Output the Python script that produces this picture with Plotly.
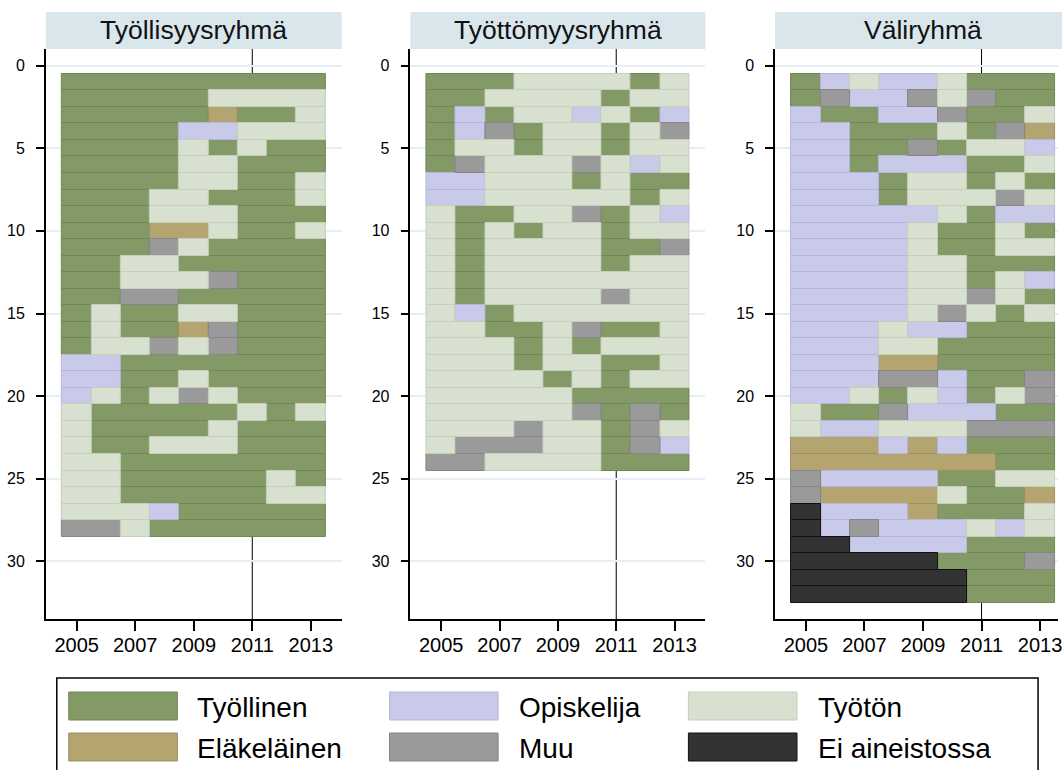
import plotly.graph_objects as go

# ---------------- data ----------------
years = [2005, 2006, 2007, 2008, 2009, 2010, 2011, 2012, 2013]
x_tick_years = [2005, 2007, 2009, 2011, 2013]
y_ticks = [0, 5, 10, 15, 20, 25, 30]
reform_year = 2011

panel_titles = ["Työllisyysryhmä", "Työttömyysryhmä", "Väliryhmä"]

# state codes: E=Työllinen, R=Eläkeläinen, S=Opiskelija, M=Muu, U=Työtön, X=Ei aineistossa
state_codes = ["E", "R", "S", "M", "U", "X"]
state_labels = ["Työllinen", "Eläkeläinen", "Opiskelija", "Muu", "Työtön", "Ei aineistossa"]
state_colors = ["#849a66", "#b4a470", "#c9c9e9", "#9a9a9a", "#d8e0d0", "#333333"]
state_edges = ["#6f8753", "#9f8f5d", "#b6b6dc", "#858585", "#c5cfbc", "#111111"]

# one string per individual, one letter per year 2005..2013
seq_tyollisyys = [
    "EEEEEEEEE", "EEEEEUUUU", "EEEEEREEU", "EEEESSUUU", "EEEEUEUEE",
    "EEEEUUEEE", "EEEEUUEEU", "EEEUUEEEU", "EEEUUUEEE", "EEERRUEEU",
    "EEEMUEEEE", "EEUUEEEEE", "EEUUUMEEE", "EEMMEEEEE", "EUEEUUEEE",
    "EUEERMEEE", "EUUMUMEEE", "SSEEEEEEE", "SSEEUEEEE", "SUEUMUEEE",
    "UEEEEEUEU", "UEEEEUEEE", "UEEUUUEEE", "UUEEEEEEE", "UUEEEEEUE",
    "UUEEEEEUU", "UUUSEEEEE", "MMUEEEEEE",
]
seq_tyottomyys = [
    "EEEUUUUEU", "EEUUUUEUU", "ESEUUSUES", "ESMEUUEUM", "EUUEUUEUU",
    "EMUUUMUSU", "SSUUUEUEE", "SSUUUUUEU", "UEEUUMEUS", "UEUEUUEUU",
    "UEUUUUEEM", "UEUUUUEUU", "UEUUUUUUU", "UEUUUUMUU", "USEUUUUUU",
    "UUEEUMEEU", "UUUEUEUUU", "UUUEUUEEU", "UUUUEUEUU", "UUUUUEEEE",
    "UUUUUMEME", "UUUMUUEMU", "UMMMUUEMS", "MMUUUUEEE",
]
seq_valiryhma = [
    "ESUSSUEEE", "EMSSMUMEE", "SEESSMEEU", "SSEEEUEMR", "SSEEMEUUS",
    "SSESSSEEU", "SSSEUUEUE", "SSSEUUUMU", "SSSSSUESS", "SSSSUEEUE",
    "SSSSUEEUU", "SSSSUUEEE", "SSSSUUEUS", "SSSSUUMUE", "SSSSUMUEU",
    "SSSUSSEEE", "SSSUUEEEE", "SSSRREEEE", "SSSMMSEEM", "SSUEUSEUM",
    "UEEMSSSEE", "USSUUUMMM", "RRRSRSEEE", "RRRRRRREE", "MSSSSEEUU",
    "MRRRRUEER", "XSSSREEEU", "XSMSSSUSU", "XXSSSSEEE", "XXXXXEEEM",
    "XXXXXXEEE", "XXXXXXEEE",
]
panel_sequences = [seq_tyollisyys, seq_tyottomyys, seq_valiryhma]

# ---------------- layout helpers ----------------
W, H = 1062, 770
def fx(px):
    return px / W
def fy(py):
    return 1 - py / H

FONT = "Arial, Liberation Sans, sans-serif"
panel_px = [(46, 343), (412, 708), (778, 1075)]
plot_top, plot_bottom = 49, 619
x_full_range = [2003.945, 2014.055]
y_range = [33.48, -1.0]

fig = go.Figure()

for p, seqs in enumerate(panel_sequences):
    suffix = "" if p == 0 else str(p + 1)
    for code, color, edge in zip(state_codes, state_colors, state_edges):
        ys, bases, lens = [], [], []
        for i, s in enumerate(seqs):
            j = 0
            while j < len(s):
                k = j
                while k < len(s) and s[k] == s[j]:
                    k += 1
                if s[j] == code:
                    ys.append(i + 1)
                    bases.append(years[j] - 0.5)
                    lens.append(years[k - 1] - years[j] + 1)
                j = k
        if ys:
            fig.add_trace(go.Bar(
                orientation="h", y=ys, x=lens, base=bases, width=1,
                marker=dict(color=color, line=dict(color=edge, width=1)),
                showlegend=False, hoverinfo="skip",
                xaxis="x" + suffix, yaxis="y" + suffix,
            ))

layout = dict(
    width=W, height=H, margin=dict(l=0, r=0, t=0, b=0),
    plot_bgcolor="white", paper_bgcolor="white",
    barmode="overlay", bargap=0,
    font=dict(family=FONT, color="#000000"),
    showlegend=False,
)
shapes, annotations = [], []
for p in range(3):
    suffix = "" if p == 0 else str(p + 1)
    x0p, x1p = panel_px[p]
    x1c = min(x1p, W)
    span = x_full_range[1] - x_full_range[0]
    xr = [x_full_range[0], x_full_range[0] + span * (x1c - x0p) / (x1p - x0p)]
    layout["xaxis" + suffix] = dict(
        domain=[fx(x0p), fx(x1c)], range=xr, anchor="y" + suffix,
        tickvals=x_tick_years, ticks="outside", ticklen=10, tickwidth=1.5,
        tickcolor="black", showline=True, linecolor="black", linewidth=1.5,
        showgrid=False, zeroline=False, tickfont=dict(size=20),
        ticklabelstandoff=-3, ticklabeloverflow="allow",
    )
    layout["yaxis" + suffix] = dict(
        domain=[fy(plot_bottom), fy(plot_top)], range=y_range, anchor="x" + suffix,
        tickvals=y_ticks, ticks="outside", ticklen=8, tickwidth=1.5,
        tickcolor="black", showline=True, linecolor="black", linewidth=1.5,
        showgrid=True, gridcolor="#e6eff1", gridwidth=2, zeroline=False,
        tickfont=dict(size=16), ticklabelstandoff=8,
    )
    # reference line at 2011
    shapes.append(dict(type="line", xref="x" + suffix, yref="y" + suffix + " domain",
                       x0=reform_year, x1=reform_year, y0=0, y1=1,
                       line=dict(color="black", width=1), layer="below"))
    # title strip
    shapes.append(dict(type="rect", xref="paper", yref="paper",
                       x0=fx(x0p), x1=fx(x1p), y0=fy(plot_top), y1=fy(12),
                       fillcolor="#d9e6ec", line=dict(width=0), layer="above"))
    annotations.append(dict(text=panel_titles[p], xref="paper", yref="paper",
                            x=fx((x0p + x1p) / 2), y=fy(30), xanchor="center",
                            yanchor="middle", showarrow=False,
                            font=dict(size=26.5, color="#111111")))

# legend (manual, large swatches)
shapes.append(dict(type="rect", xref="paper", yref="paper",
                   x0=fx(57), x1=fx(1042), y0=fy(800), y1=fy(678),
                   line=dict(color="black", width=1.5), fillcolor="rgba(0,0,0,0)"))
col_sw = [69, 391, 691]
col_tx = [196, 519, 819]
row_sw = [(692, 720), (733, 761)]
for idx, (lab, color, edge) in enumerate(zip(state_labels, state_colors, state_edges)):
    c, r = idx // 2, idx % 2
    shapes.append(dict(type="rect", xref="paper", yref="paper",
                       x0=fx(col_sw[c]), x1=fx(col_sw[c] + 109),
                       y0=fy(row_sw[r][1]), y1=fy(row_sw[r][0]),
                       fillcolor=color, line=dict(color=edge, width=1)))
    annotations.append(dict(text=lab, xref="paper", yref="paper",
                            x=fx(col_tx[c]), y=fy((row_sw[r][0] + row_sw[r][1]) / 2 + 1),
                            xanchor="left", yanchor="middle", showarrow=False,
                            font=dict(size=28, color="#000000")))

layout["shapes"] = shapes
layout["annotations"] = annotations
fig.update_layout(**layout)
fig.write_html("out.html", config={"displayModeBar": False},
               post_script="document.body.style.margin='0px';")
